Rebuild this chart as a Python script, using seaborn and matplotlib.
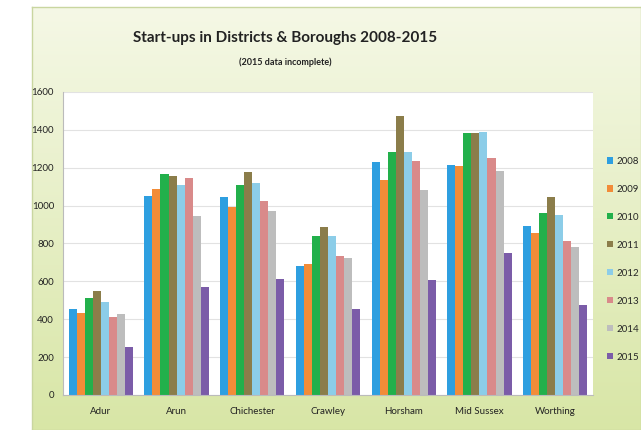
import numpy as np
import pandas as pd
import matplotlib.pyplot as plt
import seaborn as sns
from matplotlib.patches import Patch
from matplotlib.colors import LinearSegmentedColormap

districts = ["Adur", "Arun", "Chichester", "Crawley", "Horsham", "Mid Sussex", "Worthing"]
years = ["2008", "2009", "2010", "2011", "2012", "2013", "2014", "2015"]

# start-ups per district, one list per year
y2008 = [453, 1050, 1048, 682, 1228, 1214, 890]
y2009 = [432, 1087, 992, 692, 1133, 1209, 853]
y2010 = [511, 1168, 1108, 839, 1285, 1381, 960]
y2011 = [548, 1158, 1177, 888, 1471, 1381, 1045]
y2012 = [493, 1108, 1119, 840, 1285, 1387, 950]
y2013 = [414, 1145, 1026, 733, 1235, 1249, 811]
y2014 = [428, 946, 973, 721, 1082, 1182, 784]
y2015 = [255, 569, 613, 453, 608, 749, 474]

colors = ["#2E9FE0", "#F28C38", "#22B04B", "#8B7D4A", "#8CCDE8", "#D98A8A", "#BDBDBD", "#7B5CA8"]


def build_frame():
    series = [y2008, y2009, y2010, y2011, y2012, y2013, y2014, y2015]
    rows = []
    for yr, vals in zip(years, series):
        for d, v in zip(districts, vals):
            rows.append({"District": d, "Year": yr, "Startups": v})
    return pd.DataFrame(rows)


def main():
    sns.set_style("white")
    plt.rcParams["font.family"] = ["Lato", "DejaVu Sans"]

    df = build_frame()

    fig = plt.figure(figsize=(6.41, 4.30), dpi=100)
    fig.patch.set_facecolor("white")

    # panel with a soft yellow-green gradient, like the Excel chart area
    bg = fig.add_axes([32 / 641, 0.0, 1 - 32 / 641, 1 - 7 / 430], zorder=-5)
    grad = np.linspace(0, 1, 256).reshape(-1, 1)
    grad = np.hstack([grad, grad])
    cmap = LinearSegmentedColormap.from_list("panel", ["#F5F8E6", "#D8E6A6"])
    bg.imshow(grad, aspect="auto", cmap=cmap, extent=[0, 1, 0, 1], origin="upper")
    bg.set_xticks([])
    bg.set_yticks([])
    for s in bg.spines.values():
        s.set_color("#C9D6A0")
        s.set_linewidth(1.0)

    ax = fig.add_axes([63 / 641, 35 / 430, 530 / 641, 303 / 430])
    sns.barplot(data=df, x="District", y="Startups", hue="Year", palette=colors,
                width=0.85, saturation=1, ax=ax, legend=False, errorbar=None,
                linewidth=0)

    ax.set_facecolor("white")
    ax.set_ylim(0, 1600)
    ax.set_yticks(range(0, 1601, 200))
    ax.yaxis.grid(True, color="#E2E2E2", linewidth=0.8)
    ax.set_axisbelow(True)
    ax.set_xlabel("")
    ax.set_ylabel("")
    ax.set_xlim(-0.5, len(districts) - 0.5)
    ax.set_xticks(np.arange(len(districts)) + 0.5, minor=True)
    ax.tick_params(axis="x", which="major", length=0, labelsize=7, pad=9, labelcolor="#222222")
    ax.tick_params(axis="x", which="minor", length=3, color="#BBBBBB")
    ax.tick_params(axis="y", length=3, color="#BBBBBB", labelsize=7, labelcolor="#222222")
    for side in ["top", "right"]:
        ax.spines[side].set_visible(False)
    for side in ["left", "bottom"]:
        ax.spines[side].set_color("#BBBBBB")
        ax.spines[side].set_linewidth(0.8)

    fig.text(0.445, 1 - 38 / 430, "Start-ups in Districts & Boroughs 2008-2015",
             ha="center", va="center", fontsize=11, fontweight="bold", color="#222222")
    fig.text(0.445, 1 - 62 / 430, "(2015 data incomplete)",
             ha="center", va="center", fontsize=6.5, fontweight="bold", color="#222222")

    handles = [Patch(facecolor=c, edgecolor="none") for c in colors]
    fig.legend(handles, years, loc="upper left", bbox_to_anchor=(603 / 641, 1 - 153 / 430),
               frameon=False, fontsize=7, handlelength=0.6, handleheight=0.6,
               handletextpad=0.4, labelspacing=1.95, borderaxespad=0)

    fig.savefig("out.png", dpi=100)
    plt.close(fig)


if __name__ == "__main__":
    main()
